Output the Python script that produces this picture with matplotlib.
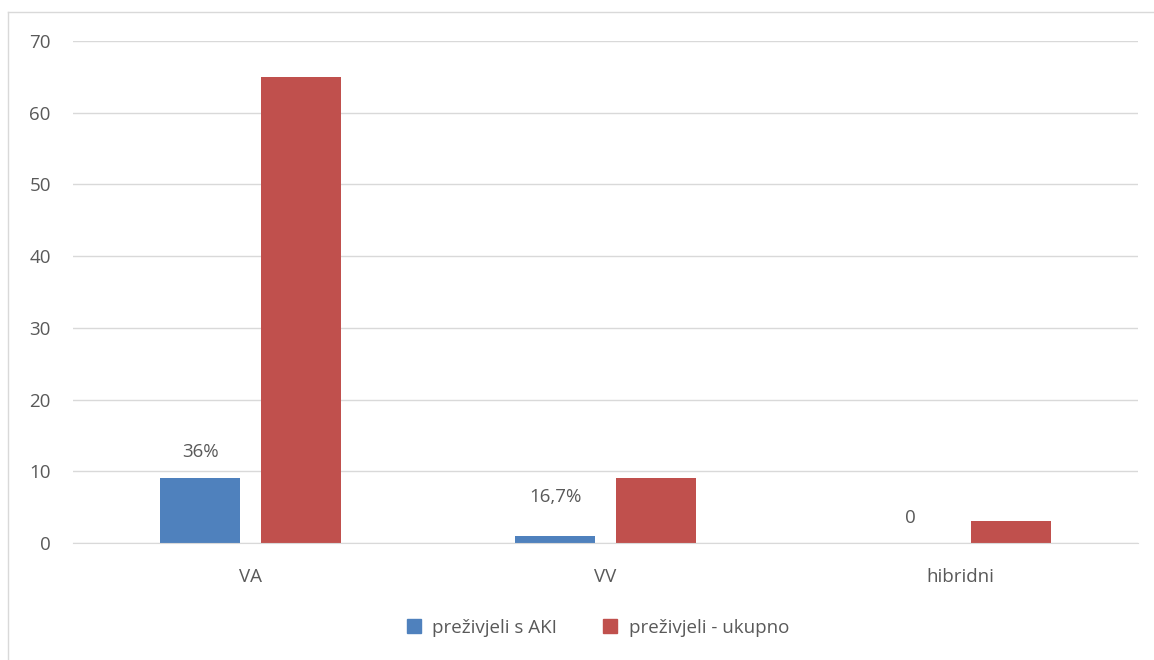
import matplotlib.pyplot as plt
import numpy as np
from matplotlib.lines import Line2D

# data
categories = ["VA", "VV", "hibridni"]
aki = [9, 1, 0]
ukupno = [65, 9, 3]
aki_labels = ["36%", "16,7%", "0"]
series_names = ["preživjeli s AKI", "preživjeli - ukupno"]

blue = "#4F81BD"
red = "#C0504D"
txt = "#595959"
grid = "#D9D9D9"

plt.rcParams['font.family'] = ['Open Sans', 'DejaVu Sans']
fs = 13.5

fig = plt.figure(figsize=(11.54, 6.6), dpi=100)
ax = fig.add_axes([73/1154, 1-543/660, (1138-73)/1154, (543-41)/660])

x = np.arange(len(categories))
w = 0.225
off = 0.142
ax.bar(x - off, aki, w, color=blue, label=series_names[0])
ax.bar(x + off, ukupno, w, color=red, label=series_names[1])

# labels above the blue bars (the VV one sits a bit higher in the original)
lab_dy = [19, 28, 18]
for xi, v, lab, dy in zip(x, aki, aki_labels, lab_dy):
    ax.annotate(lab, (xi - off, v), xytext=(0, dy), textcoords="offset points",
                ha="center", va="center", fontsize=fs, color=txt)

ax.set_xlim(-0.5, 2.5)
ax.set_ylim(0, 70)
ax.set_yticks(range(0, 71, 10))
ax.set_xticks(x)
ax.set_xticklabels(categories)
ax.yaxis.grid(True, color=grid, linewidth=1)
ax.set_axisbelow(True)
for s in ["top", "right", "left"]:
    ax.spines[s].set_visible(False)
ax.spines["bottom"].set_color(grid)
ax.tick_params(axis="both", length=0, labelsize=fs, colors=txt)
ax.tick_params(axis="y", pad=16)
ax.tick_params(axis="x", pad=18)

handles = [Line2D([], [], marker="s", linestyle="", markersize=10, color=blue),
           Line2D([], [], marker="s", linestyle="", markersize=10, color=red)]
leg = fig.legend(handles, series_names, loc="center", bbox_to_anchor=(592/1154, 1-628/660),
                 ncol=2, frameon=False, fontsize=fs, handletextpad=0.0, columnspacing=1.8)
for t in leg.get_texts():
    t.set_color(txt)

# outer chart border (top and left only, as in the picture)
fig.add_artist(Line2D([8/1154, 1], [1-12/660, 1-12/660], color=grid, linewidth=1))
fig.add_artist(Line2D([8/1154, 8/1154], [0, 1-12/660], color=grid, linewidth=1))

fig.savefig("out.png", dpi=100)
